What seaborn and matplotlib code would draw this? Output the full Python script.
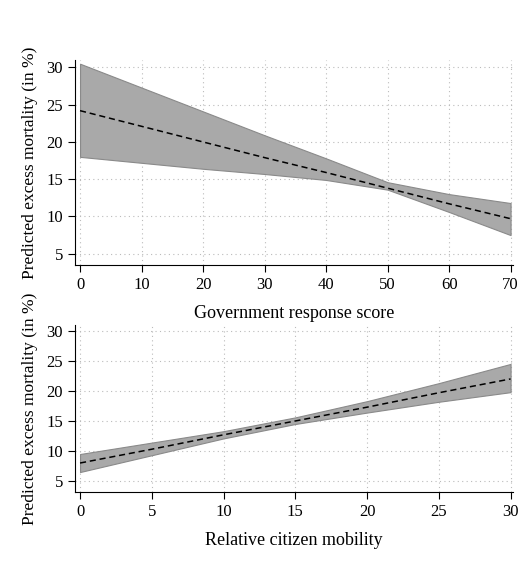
import matplotlib
matplotlib.use("Agg")
import matplotlib.pyplot as plt
import seaborn as sns
import pandas as pd

sns.set_theme(style="white")
plt.rcParams['font.family'] = ['Liberation Serif', 'DejaVu Serif']
plt.rcParams['text.color'] = 'black'
plt.rcParams['axes.labelcolor'] = 'black'

gov_x = [0, 10, 20, 30, 40, 50, 60, 70]
gov_fit = [24.2, 22.1, 20.0, 17.9, 15.9, 13.8, 11.7, 9.7]
gov_lo = [18.0, 17.2, 16.4, 15.7, 14.9, 13.6, 10.6, 7.5]
gov_hi = [30.5, 27.3, 24.1, 20.9, 17.8, 14.6, 13.0, 11.8]

mob_x = [0, 5, 10, 15, 20, 25, 30]
mob_fit = [8.0, 10.3, 12.7, 15.0, 17.3, 19.7, 22.0]
mob_lo = [6.5, 9.3, 12.1, 14.5, 16.4, 18.2, 19.8]
mob_hi = [9.5, 11.4, 13.3, 15.6, 18.3, 21.3, 24.5]

fig = plt.figure(figsize=(5.2, 5.66), dpi=100)
ax1 = fig.add_axes([0.144, 0.532, 0.842, 0.362])
ax2 = fig.add_axes([0.144, 0.131, 0.842, 0.295])

def panel(ax, x, fit, lo, hi, xticks, xlabel, ylim):
    ax.fill_between(x, lo, hi, color='#a9a9a9', edgecolor='#8a8a8a', linewidth=0.8, zorder=2)
    sns.lineplot(x=x, y=fit, ax=ax, color='black', linestyle=(0, (4, 2.5)), linewidth=1.1, zorder=3)
    ax.set_xticks(xticks)
    ax.set_yticks([5, 10, 15, 20, 25, 30])
    ax.set_xlim(xticks[0] - (xticks[-1] - xticks[0]) * 0.012, xticks[-1] + (xticks[-1] - xticks[0]) * 0.005)
    ax.set_ylim(*ylim)
    ax.grid(True, linestyle=(0, (1, 3)), color='#bbbbbb', linewidth=0.8)
    for s in ['top', 'right']:
        ax.spines[s].set_visible(False)
    for s in ['left', 'bottom']:
        ax.spines[s].set_color('black')
        ax.spines[s].set_linewidth(0.8)
    ax.tick_params(axis='both', direction='out', length=5, width=0.8, colors='black', labelsize=12, left=True, bottom=True)
    ax.set_xlabel(xlabel, fontsize=13, labelpad=9)
    ax.set_ylabel('Predicted excess mortality (in %)', fontsize=12.5, labelpad=6)

panel(ax1, gov_x, gov_fit, gov_lo, gov_hi, [0, 10, 20, 30, 40, 50, 60, 70], 'Government response score', (3.5, 31))
panel(ax2, mob_x, mob_fit, mob_lo, mob_hi, [0, 5, 10, 15, 20, 25, 30], 'Relative citizen mobility', (3.2, 31))

fig.savefig('out.png', dpi=100)
